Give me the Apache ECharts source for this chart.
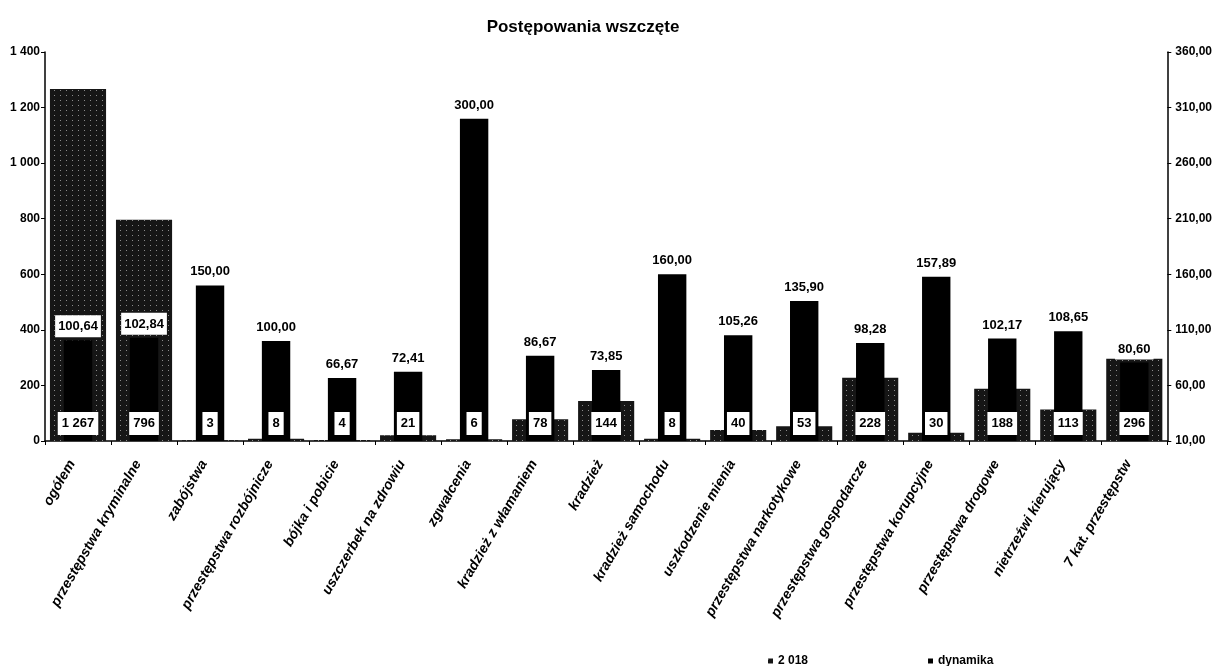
<!DOCTYPE html>
<html>
<head>
<meta charset="utf-8">
<script src="https://cdn.jsdelivr.net/npm/echarts@6/dist/echarts.min.js"></script>
<style>
html,body{margin:0;padding:0;background:#fff;}
#chart{width:1215px;height:666px;}
</style>
</head>
<body>
<div id="chart"></div>
<script>
const categories = [
  'ogółem', 'przestępstwa kryminalne', 'zabójstwa', 'przestępstwa rozbójnicze',
  'bójka i pobicie', 'uszczerbek na zdrowiu', 'zgwałcenia', 'kradzież z włamaniem',
  'kradzież', 'kradzież samochodu', 'uszkodzenie mienia', 'przestępstwa narkotykowe',
  'przestępstwa gospodarcze', 'przestępstwa korupcyjne', 'przestępstwa drogowe',
  'nietrzeźwi kierujący', '7 kat. przestępstw'
];
const values2018 = [1267, 796, 3, 8, 4, 21, 6, 78, 144, 8, 40, 53, 228, 30, 188, 113, 296];
const dynamika = [100.64, 102.84, 150.00, 100.00, 66.67, 72.41, 300.00, 86.67, 73.85, 160.00, 105.26, 135.90, 98.28, 157.89, 102.17, 108.65, 80.60];
const seriesNames = ['2 018', 'dynamika'];

const FN = "'Liberation Sans Narrow', 'Arial Narrow', 'Liberation Sans', sans-serif";
const fmtThousands = v => String(v).replace(/\B(?=(\d{3})+(?!\d))/g, ' ');
const fmtDec = v => Number(v).toFixed(2).replace('.', ',');

const chart = echarts.init(document.getElementById('chart'), null, {renderer: 'canvas'});
chart.setOption({
  animation: false,
  backgroundColor: '#fff',
  title: {
    text: 'Postępowania wszczęte',
    left: 578, top: 14, textAlign: 'center',
    textStyle: {fontFamily: FN, fontWeight: 'bold', fontSize: 17, color: '#000'}
  },
  legend: {
    data: seriesNames,
    left: 763, top: 650,
    itemGap: 120, itemWidth: 5, itemHeight: 5,
    icon: 'rect',
    textStyle: {fontFamily: FN, fontWeight: 'bold', fontSize: 12, color: '#000'}
  },
  grid: {left: 45, right: 46, top: 52, bottom: 225, containLabel: false},
  xAxis: [{
    type: 'category', data: categories, gridIndex: 0,
    axisLine: {lineStyle: {color: '#000', width: 1.5}},
    axisTick: {show: true, alignWithLabel: false, length: 4, lineStyle: {color: '#000'}},
    axisLabel: {
      rotate: 60, interval: 0, margin: 10, padding: [0, 12, 0, 0],
      fontFamily: FN, fontWeight: 'bold', fontStyle: 'italic', fontSize: 14, color: '#000'
    }
  }, {
    type: 'category', data: categories, gridIndex: 0, show: false
  }],
  yAxis: [{
    type: 'value', min: 0, max: 1400, interval: 200,
    splitLine: {show: false},
    axisLine: {show: true, lineStyle: {color: '#000', width: 1.5}},
    axisTick: {show: true, length: 4, lineStyle: {color: '#000'}},
    axisLabel: {
      margin: 5, formatter: v => fmtThousands(v),
      fontFamily: FN, fontWeight: 'bold', fontSize: 12, color: '#000'
    }
  }, {
    type: 'value', min: 10, max: 360, interval: 50, position: 'right',
    splitLine: {show: false},
    axisLine: {show: true, lineStyle: {color: '#000', width: 1.5}},
    axisTick: {show: true, length: 4, lineStyle: {color: '#000'}},
    axisLabel: {
      margin: 8, formatter: v => fmtDec(v),
      fontFamily: FN, fontWeight: 'bold', fontSize: 12, color: '#000'
    }
  }],
  series: [{
    name: seriesNames[0], type: 'bar', data: values2018,
    xAxisIndex: 0, yAxisIndex: 0, barWidth: '85%', z: 2,
    itemStyle: {
      color: '#161616',
      decal: {symbol: 'rect', symbolSize: 1, color: 'rgba(255,255,255,0.5)',
              dashArrayX: [1, 5], dashArrayY: [1, 4], rotation: 0}
    },
    label: {
      show: true, position: 'insideBottom', distance: 6,
      formatter: p => fmtThousands(p.value),
      backgroundColor: '#fff', padding: [5, 4, 5, 4],
      fontFamily: FN, fontWeight: 'bold', fontSize: 13, color: '#000'
    }
  }, {
    name: seriesNames[1], type: 'bar', data: dynamika,
    xAxisIndex: 1, yAxisIndex: 1, barWidth: '43%', z: 2,
    itemStyle: {color: '#000'},
    label: {
      show: true, position: 'top', distance: 3,
      formatter: p => fmtDec(p.value),
      backgroundColor: '#fff', padding: [5, 3, 4, 3],
      fontFamily: FN, fontWeight: 'bold', fontSize: 13, color: '#000'
    }
  }]
});
</script>
</body>
</html>
